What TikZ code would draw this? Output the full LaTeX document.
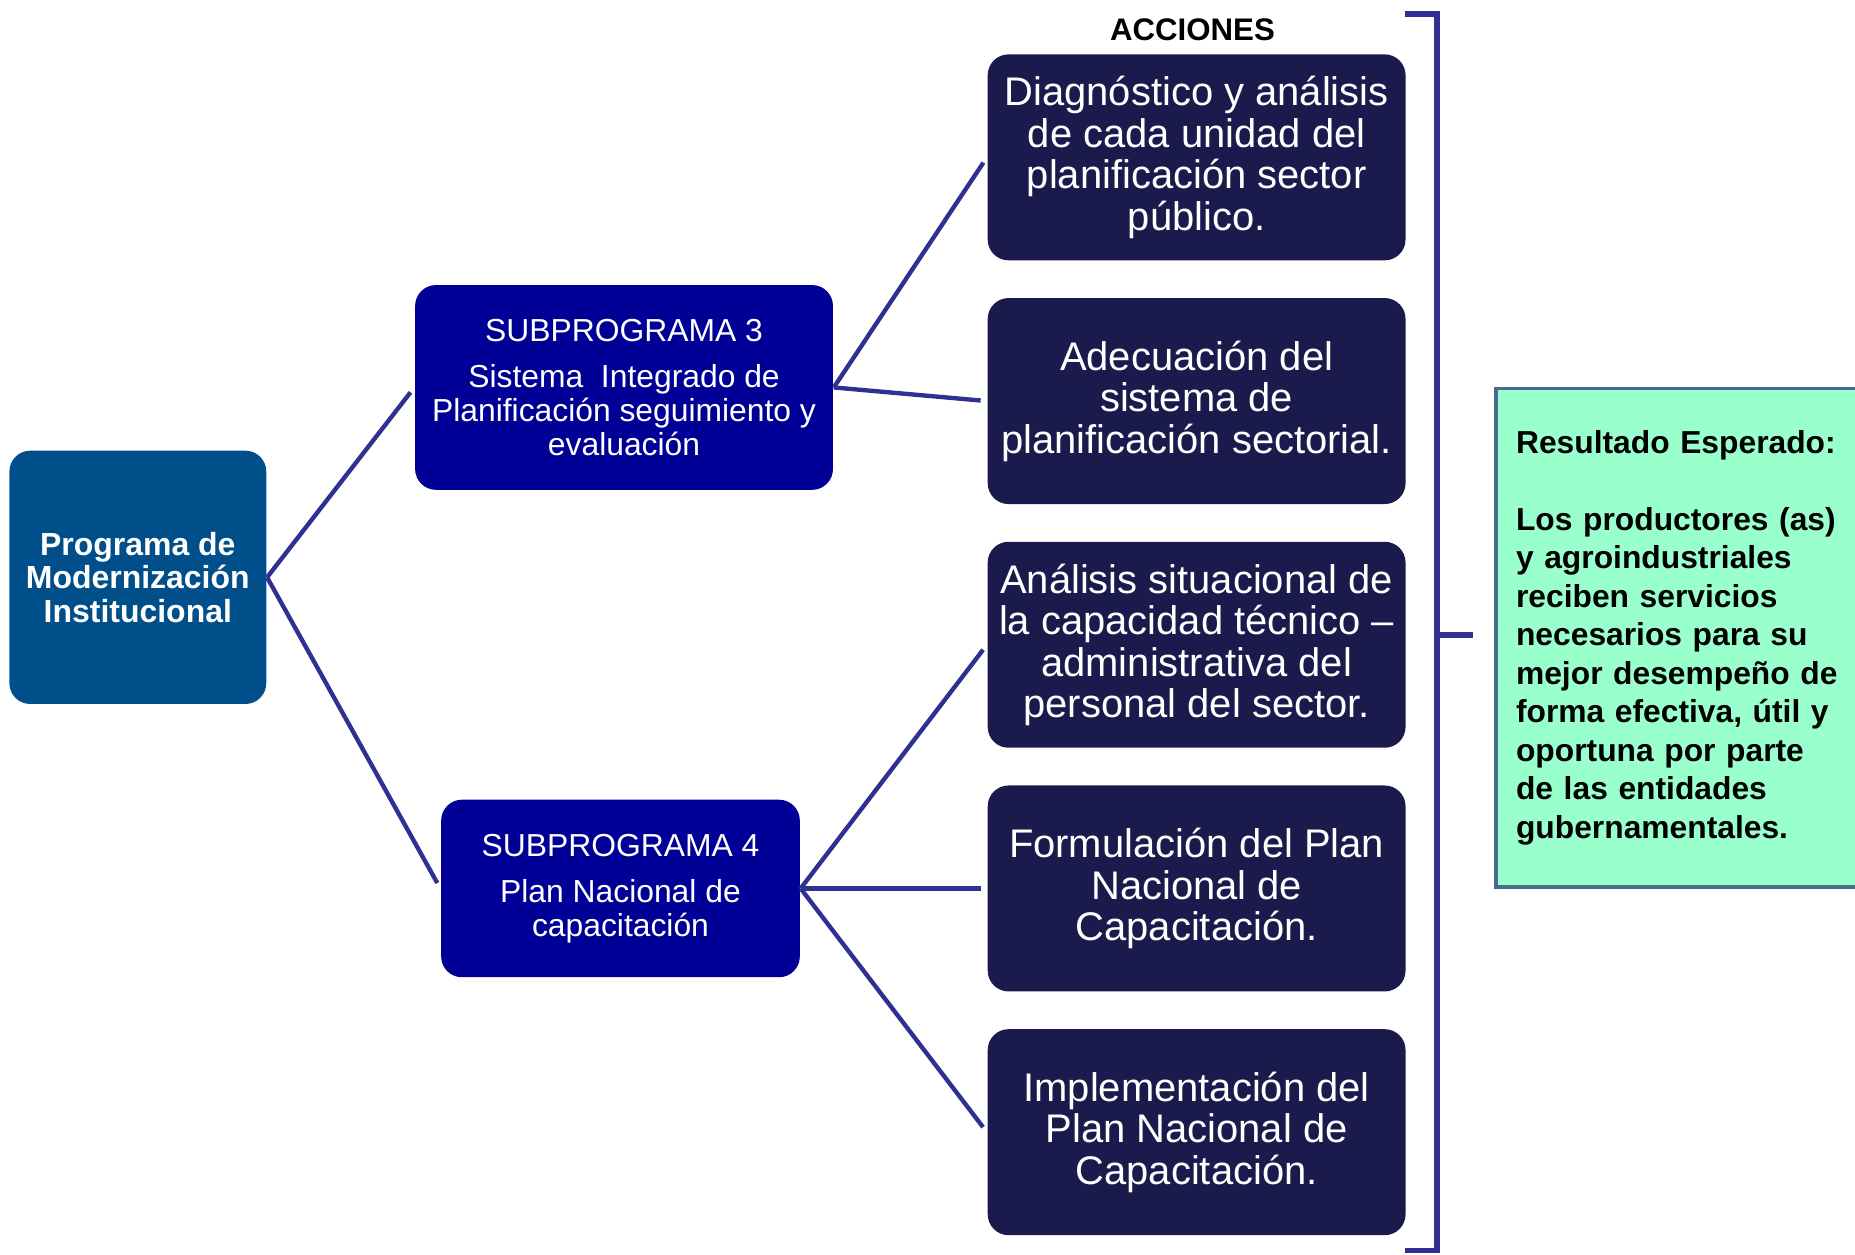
\documentclass[tikz,border=0pt]{standalone}
\usepackage{fontspec}
\setmainfont{Liberation Sans}
\usetikzlibrary{positioning}
\definecolor{progazul}{RGB}{0,79,138}
\definecolor{subazul}{RGB}{0,0,150}
\definecolor{accazul}{RGB}{27,26,77}
\definecolor{lineazul}{RGB}{46,49,146}
\definecolor{verde}{RGB}{153,255,204}
\definecolor{borde}{RGB}{74,108,140}

\begin{document}
\begin{tikzpicture} [x = 0.01cm, y = -0.01cm,
  caja/.style = {rounded corners = 5pt, text = white, align = center, inner sep = 0pt},
  acc/.style = {caja, fill = accazul, minimum width = 3.53cm, minimum height = 1.74cm, font = \fontsize{9.6}{9.96}\selectfont},
  sub/.style = {caja, fill = subazul, font = \fontsize{7.65}{8.1}\selectfont},
  linea/.style = {draw = lineazul, line width = 1.05pt, shorten > = 1.5pt}]
\useasboundingbox (0,0) rectangle (1568,1060);
\node[caja, fill = progazul, minimum width = 2.17cm, minimum height = 2.14cm, font = \bfseries\fontsize{7.68}{8.1}\selectfont](p) at (116.5,488){Programa de\\Modernización\\Institucional};
\node[sub, minimum width = 3.53cm, minimum height = 1.73cm](s3) at (527.5,327.5){SUBPROGRAMA 3\\[3pt]Sistema\ \ Integrado de\\Planificación seguimiento y\\evaluación};
\node[sub, minimum width = 3.03cm, minimum height = 1.50cm](s4) at (524.5,751){SUBPROGRAMA 4\\[3pt]Plan Nacional de\\capacitación};
\node[font = \bfseries\fontsize{7.5}{8}\selectfont](t) at (1008,25){ACCIONES};
\node[acc](a1) at (1011.5,133){Diagnóstico y análisis\\de cada unidad del\\planificación sector\\público.};
\node[acc](a2) at (1011.5,339){Adecuación del\\sistema de\\planificación sectorial.};
\node[acc](a3) at (1011.5,545){Análisis situacional de\\la capacidad técnico –\\administrativa del\\personal del sector.};
\node[acc](a4) at (1011.5,751){Formulación del Plan\\Nacional de\\Capacitación.};
\node[acc](a5) at (1011.5,957){Implementación del\\Plan Nacional de\\Capacitación.};
\node[draw = borde, line width = 0.85pt, fill = verde, anchor = north west, text width = 2.9cm, inner xsep = 0.17cm, minimum height = 4.21cm, align = left, font = \bfseries\fontsize{7.64}{9.25}\selectfont](r) at (1263,327){Resultado Esperado:\\[9.25pt]Los productores (as)\\y agroindustriales\\reciben servicios\\necesarios para su\\mejor desempeño de\\forma efectiva, útil y\\oportuna por parte\\de las entidades\\gubernamentales.};
\draw[linea] (p.east) -- (s3.west);
\draw[linea] (p.east) -- (s4.west);
\draw[linea] (s3.east) -- (a1.west);
\draw[linea] (s3.east) -- (a2.west);
\draw[linea] (s4.east) -- (a3.west);
\draw[linea] (s4.east) -- (a4.west);
\draw[linea] (s4.east) -- (a5.west);
\coordinate (b1) at (1188,12);
\coordinate (b2) at (1215,12);
\coordinate (b3) at (1215,1057);
\coordinate (b4) at (1188,1057);
\coordinate (bm) at (1215,537);
\coordinate (bt) at (1245,537);
\draw[lineazul, line width = 1.4pt] (b1) -- (b2) -- (b3) -- (b4);
\draw[lineazul, line width = 1.4pt] (bm) -- (bt);
\end{tikzpicture}
\end{document}
